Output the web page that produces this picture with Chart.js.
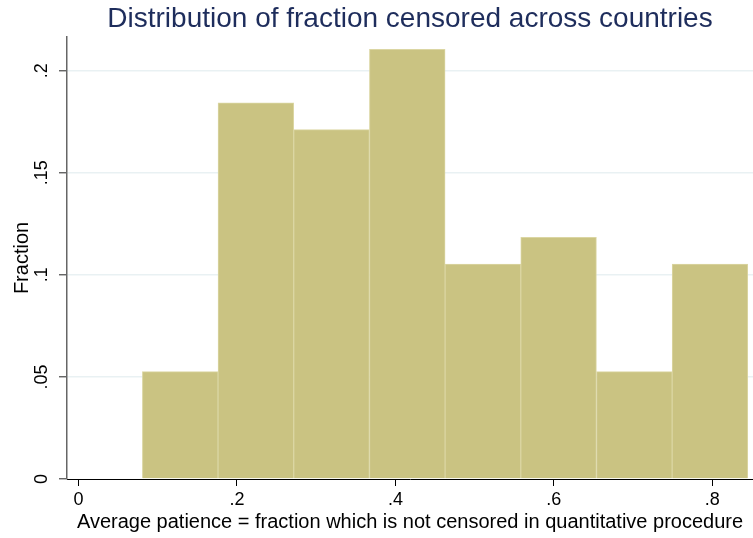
<!DOCTYPE html>
<html>
<head>
<meta charset="utf-8">
<script src="https://cdn.jsdelivr.net/npm/chart.js@4.4.1/dist/chart.umd.min.js"></script>
<style>
  html, body { margin: 0; padding: 0; background: #fff; }
  #wrap { width: 753px; height: 538px; }
</style>
</head>
<body>
<div id="wrap"><canvas id="hist"></canvas></div>
<script>
// Histogram bins (centres) and the fraction of countries in each one
const binCenters = [0.1284, 0.2239, 0.3194, 0.4150, 0.5105, 0.6060, 0.7016, 0.7971];
const fractions = [0.0526, 0.1842, 0.1711, 0.2105, 0.1053, 0.1184, 0.0526, 0.1053];
const xTicks = [0, 0.2, 0.4, 0.6, 0.8];
const xTickLabels = ["0", ".2", ".4", ".6", ".8"];
const yTicks = [0, 0.05, 0.1, 0.15, 0.2];
const yTickLabels = ["0", ".05", ".1", ".15", ".2"];

const FONT = "'Liberation Sans', Arial, Helvetica, sans-serif";

new Chart(document.getElementById("hist"), {
  type: "bar",
  data: {
    datasets: [{
      data: binCenters.map((x, i) => ({ x: x, y: fractions[i] })),
      backgroundColor: "#cac382",
      borderColor: "#dbd6a3",
      borderWidth: 1,
      barPercentage: 1,
      categoryPercentage: 1,
    }],
  },
  options: {
    responsive: true,
    maintainAspectRatio: false,
    animation: false,
    layout: { padding: 0 },
    plugins: {
      legend: { display: false },
      tooltip: { enabled: false },
      title: {
        display: true,
        text: "Distribution of fraction censored across countries",
        color: "#1e2d5c",
        font: { family: FONT, size: 28, weight: "normal", lineHeight: 1.2 },
        fullSize: false,
        padding: { top: 2, bottom: 1.4 },
      },
    },
    scales: {
      x: {
        type: "linear",
        min: -0.0145,
        max: 0.8514,
        offset: false,
        afterBuildTicks: (s) => { s.ticks = xTicks.map((v) => ({ value: v })); },
        afterFit: (s) => { s.height = 59; },
        ticks: {
          callback: (v, i) => xTickLabels[i],
          color: "#000",
          font: { family: FONT, size: 18 },
          padding: 3,
          maxRotation: 0,
          autoSkip: false,
        },
        grid: { offset: false, drawOnChartArea: false, tickLength: 7, tickColor: "#000", tickWidth: 1 },
        border: { color: "#000", width: 1 },
        title: {
          display: true,
          text: "Average patience = fraction which is not censored in quantitative procedure",
          color: "#000",
          font: { family: FONT, size: 20 },
          padding: { top: 0, bottom: 4 },
        },
      },
      y: {
        min: 0,
        max: 0.2165,
        afterBuildTicks: (s) => { s.ticks = yTicks.map((v) => ({ value: v })); },
        afterFit: (s) => { s.width = 67; },
        ticks: {
          callback: (v, i) => yTickLabels[i],
          color: "#000",
          font: { family: FONT, size: 18 },
          minRotation: 90,
          maxRotation: 90,
          crossAlign: "center",
          padding: 4,
        },
        grid: {
          color: (ctx) => (ctx.tick && ctx.tick.value === 0 ? "rgba(0,0,0,0)" : "#e9f1f3"),
          lineWidth: 1.5,
          tickLength: 8,
          tickColor: "#555",
          tickWidth: 1.3,
        },
        border: { color: "#666", width: 1.5 },
        title: {
          display: true,
          text: "Fraction",
          color: "#000",
          font: { family: FONT, size: 20 },
          padding: { top: 10, bottom: 0 },
        },
      },
    },
  },
});
</script>
</body>
</html>
